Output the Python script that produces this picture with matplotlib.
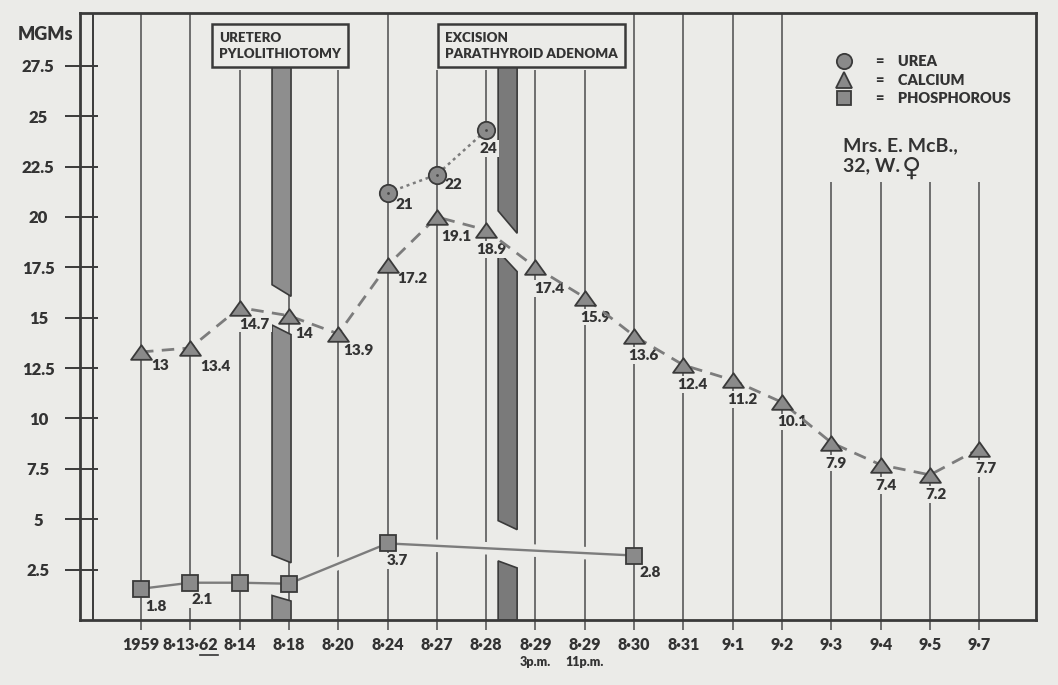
import numpy as np
import matplotlib.pyplot as plt
import matplotlib.patheffects as pe
from matplotlib.lines import Line2D
from matplotlib.patches import Polygon
from matplotlib.path import Path
from matplotlib.transforms import Bbox, blended_transform_factory

# ---- data ----
dates = ["1959", "8·13·62", "8·14", "8·18", "8·20", "8·24", "8·27", "8·28",
         "8·29", "8·29", "8·30", "8·31", "9·1", "9·2", "9·3", "9·4", "9·5", "9·7"]
times = ["3p.m.", "11p.m."]
time_idx = [8, 9]

calcium = [13.3, 13.5, 15.5, 15.1, 14.2, 17.6, 20.0, 19.35, 17.5, 16.0,
           14.1, 12.65, 11.9, 10.8, 8.8, 7.7, 7.2, 8.5]
calcium_labels = ["13", "13.4", "14.7", "14", "13.9", "17.2", "19.1", "18.9", "17.4",
                  "15.9", "13.6", "12.4", "11.2", "10.1", "7.9", "7.4", "7.2", "7.7"]

urea_idx = [5, 6, 7]
urea = [21.2, 22.1, 24.3]
urea_labels = ["21", "22", "24"]

phos_idx = [0, 1, 2, 3, 5, 10]
phos = [1.55, 1.85, 1.85, 1.8, 3.8, 3.2]
phos_labels = ["1.8", "2.1", "", "", "3.7", "2.8"]

op_names = ["URETERO\nPYLOLITHIOTOMY", "EXCISION\nPARATHYROID ADENOMA"]
op_pos = [2.85, 7.435]

yticks = [2.5, 5, 7.5, 10, 12.5, 15, 17.5, 20, 22.5, 25, 27.5]

# ---- style ----
bg = "#ebebe8"
ink = "#333333"
grid_c = "#4d4d4d"
mark_fc = "#8a8a8a"
line_c = "#7c7c7c"
hand = ["Lato", "DejaVu Sans"]
heavy = "heavy"
W, H = 1058, 685

fig = plt.figure(figsize=(W / 100, H / 100), dpi=100)
fig.patch.set_facecolor(bg)
ax = fig.add_axes([80 / W, 1 - 620 / H, (1036 - 80) / W, (620 - 13) / H])
ax.set_facecolor(bg)
ax.set_xlim(-1.237, 18.15)
ax.set_ylim(0, 30.12)
for s in ax.spines.values():
    s.set_linewidth(2.0)
    s.set_color("#3a3a3a")

x = np.arange(len(dates))

# axis ticks and labels
ax.set_xticks(x, dates)
ax.tick_params(axis="x", length=7.5, width=1.1, color=grid_c, pad=5, labelcolor=ink)
for t in ax.get_xticklabels():
    t.set_fontweight(heavy)
    t.set_family(hand)
    t.set_fontsize(11.5)
ax.set_yticks(yticks, [f"{v:g}" for v in yticks])
ax.tick_params(axis="y", length=0, pad=30, labelcolor=ink)
for t in ax.get_yticklabels():
    t.set_fontweight(heavy)
    t.set_family(hand)
    t.set_fontsize(12)
    t.set_ha("center")
ax.hlines(yticks, -1.54, -0.87, color="#3a3a3a", lw=1.4, clip_on=False, zorder=6)
ax.axvline(-0.974, color="#3a3a3a", lw=1.4, zorder=6)

fig.text(18 / W, 1 - 35 / H, "MGMs", fontsize=13, fontweight=heavy, family=hand,
         color=ink, va="center")

tr = blended_transform_factory(ax.transData, ax.transAxes)
for i, t in zip(time_idx, times):
    ax.text(i, -0.069, t, transform=tr, ha="center", va="center", family=hand,
            fontsize=9, fontweight=heavy, color=ink)

# operation boxes
boxes = []
for name, xo in zip(op_names, [1.58, 6.17]):
    b = ax.text(xo, 29.2, name, ha="left", va="top", fontsize=9.6, fontweight=heavy,
                family=hand, color=ink, linespacing=1.4, zorder=7,
                bbox=dict(boxstyle="square,pad=0.55", fc=bg, ec="#3a3a3a", lw=1.8))
    boxes.append(b)

# legend
handles = [
    Line2D([], [], ls="none", marker="o", ms=11, mfc=mark_fc, mec="#3a3a3a", mew=1.3),
    Line2D([], [], ls="none", marker="^", ms=11, mfc=mark_fc, mec="#3a3a3a", mew=1.3),
    Line2D([], [], ls="none", marker="s", ms=10, mfc=mark_fc, mec="#3a3a3a", mew=1.3),
]
leg = ax.legend(handles, ["=    UREA", "=    CALCIUM", "=    PHOSPHOROUS"],
                loc="upper left", bbox_to_anchor=(829 / W, 1 - 48 / H),
                bbox_transform=fig.transFigure, frameon=False, borderpad=0,
                handlelength=1.1, handletextpad=1.6, labelspacing=0.38,
                prop=dict(size=10.5, weight=heavy, family=hand))
for t in leg.get_texts():
    t.set_color(ink)

note1 = fig.text(843 / W, 1 - 146 / H, "Mrs. E. McB.,", fontsize=14, family=hand,
                 fontweight="bold", color=ink, va="center", ha="left")
note2 = fig.text(843 / W, 1 - 166 / H, "32, W.", fontsize=14, family=hand,
                 fontweight="bold", color=ink, va="center", ha="left")
note3 = fig.text(902 / W, 1 - 169 / H, "♀", fontsize=19, color=ink,
                 va="center", ha="left")

# grid lines stop under the boxes and the note block
fig.canvas.draw()
rend = fig.canvas.get_renderer()
inv = ax.transData.inverted()
tops = np.full(len(x), 30.12)
for b in boxes:
    bb = b.get_bbox_patch().get_window_extent(rend).transformed(inv)
    sel = (x >= bb.x0 - 0.1) & (x <= bb.x1 + 0.1)
    tops[sel] = bb.y0 - 0.15
nb = Bbox.union([leg.get_window_extent(rend), note1.get_window_extent(rend),
                 note2.get_window_extent(rend), note3.get_window_extent(rend)]).transformed(inv)
sel = (x >= nb.x0 - 0.4) & (x <= nb.x1 + 0.4)
tops[sel] = nb.y0
ax.vlines(x, 0, tops, color=grid_c, lw=1.1, zorder=1)

# operation bars broken where the curves cross them
bar_w = 0.385
bar_top = boxes[0].get_bbox_patch().get_window_extent(rend).transformed(inv).y0
for k, xc in enumerate(op_pos):
    l, r = xc - bar_w / 2, xc + bar_w / 2
    cross = [(np.interp(l, phos_idx, phos), np.interp(r, phos_idx, phos)),
             (np.interp(l, x, calcium), np.interp(r, x, calcium))]
    edges = [(0, 0)] + cross + [(bar_top, bar_top)]
    for j in range(len(edges) - 1):
        lo, hi = edges[j], edges[j + 1]
        bl, br = (lo[0] + 1.4, lo[1] + 1.0) if j > 0 else lo
        tl, tr_ = (hi[0] - 0.6, hi[1] - 0.9) if j < len(edges) - 2 else hi
        poly = Polygon([(l, bl), (r, br), (r, tr_), (l, tl)], closed=True,
                       fc="#8e8e8e" if k == 0 else "#7a7a7a", ec="#3a3a3a",
                       lw=1.2, zorder=2)
        ax.add_patch(poly)

# curves
halo = [pe.withStroke(linewidth=9, foreground=bg)]
ax.plot(phos_idx, phos, color=line_c, lw=1.7, zorder=4, path_effects=halo)
ax.plot(x, calcium, color=line_c, lw=2.0, ls=(0, (4.5, 3)), zorder=4)
ax.plot(urea_idx, urea, color=line_c, lw=1.8, ls=(0, (1.2, 1.5)), zorder=4)

tri = Path([(-1, -0.7), (1, -0.7), (0, 0.7), (-1, -0.7)],
           [Path.MOVETO, Path.LINETO, Path.LINETO, Path.CLOSEPOLY])
ax.plot(x, calcium, ls="none", marker=tri, ms=15, mfc=mark_fc, mec="#3a3a3a",
        mew=1.3, zorder=5)
ax.plot(phos_idx, phos, ls="none", marker="s", ms=12, mfc=mark_fc, mec="#3a3a3a",
        mew=1.3, zorder=5)
ax.plot(urea_idx, urea, ls="none", marker="o", ms=12.5, mfc=mark_fc, mec="#3a3a3a",
        mew=1.3, zorder=5)
ax.plot(urea_idx, urea, ls="none", marker="o", ms=2, mfc="#444444", mec="none", zorder=6)

# value labels (pixel offsets from the marker)
lab_style = dict(textcoords="offset pixels", ha="left", va="top", fontsize=11,
                 fontweight=heavy, family=hand, color=ink, zorder=3.5,
                 bbox=dict(boxstyle="square,pad=0.12", fc=bg, ec="none"))
ca_dx = [10, 10, 0, 6, 5, 10, 4, -10, -1, -5, -6, -6, -5, -5, -6, -5, -5, -4]
ca_dy = [7, 12, 10, 11, 10, 7, 13, 13, 15, 13, 13, 13, 13, 13, 14, 14, 13, 13]
for xi, v, lab, dx, dy in zip(x, calcium, calcium_labels, ca_dx, ca_dy):
    ax.annotate(lab, (xi, v), xytext=(dx, -dy), **lab_style)
for xi, v, lab, dx, dy in zip(urea_idx, urea, urea_labels, [8, 8, -7], [5, 3, 12]):
    ax.annotate(lab, (xi, v), xytext=(dx, -dy), **lab_style)
for xi, v, lab, dx, dy in zip(phos_idx, phos, phos_labels, [4, 1, 0, 0, -1, 5],
                              [11, 10, 0, 0, 11, 10]):
    if lab:
        ax.annotate(lab, (xi, v), xytext=(dx, -dy), **lab_style)

# underline the year "62" in the second date
fig.canvas.draw()
bb = ax.get_xticklabels()[1].get_window_extent(fig.canvas.get_renderer())
fig.add_artist(Line2D([(bb.x1 - 0.33 * bb.width) / W, bb.x1 / W],
                      [(bb.y0 - 2) / H, (bb.y0 - 2) / H], color=ink, lw=1.2))

fig.savefig("out.png", dpi=100, facecolor=bg)
